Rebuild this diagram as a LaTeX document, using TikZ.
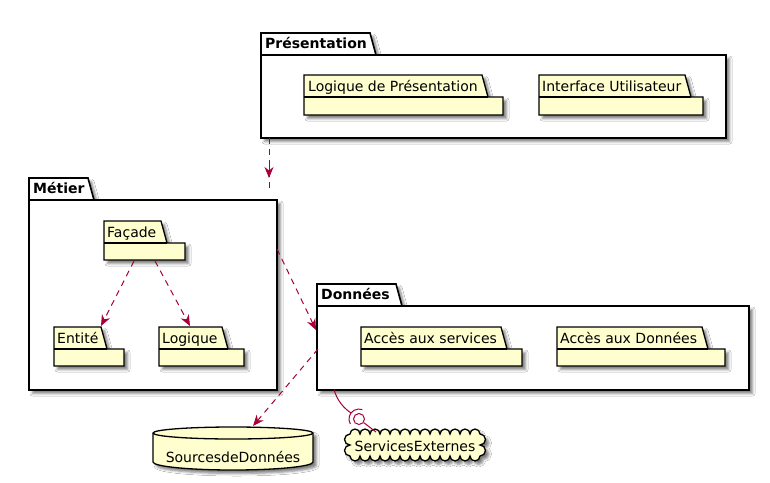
\documentclass[tikz,border=0pt]{standalone}
\usepackage{fontspec}
\setmainfont{DejaVu Sans}
\usetikzlibrary{arrows.meta,shadows.blur}
\definecolor{pumlred}{RGB}{168,0,54}
\definecolor{pumlyellow}{RGB}{254,254,206}
\newcommand\tfont{\fontsize{14}{16}\selectfont}
% package outline: left, tab top, tab right, body top, right, bottom, shape style, seam style
\newcommand\pkgshape[8]{%
  \path[#7] (#1,#2) -- (#3,#2) -- ({#3+6},#4) -- (#5,#4) -- (#5,#6) -- (#1,#6) -- cycle;
  \draw[#8] (#1,#4) -- ({#3+6},#4);
}
\begin{document}
\begin{tikzpicture}[x=1pt, y=-1pt,
  shade/.style={blur shadow={shadow xshift=3.5pt, shadow yshift=-3.5pt,
      shadow blur radius=2.5pt, shadow opacity=50}},
  outerpkg/.style={draw=black, line width=1.6pt, fill=white, shade},
  outerseam/.style={draw=black, line width=1.6pt},
  innerpkg/.style={draw=black, line width=1.3pt, fill=pumlyellow, shade},
  innerseam/.style={draw=black, line width=1.3pt},
  title/.style={font=\tfont\bfseries, anchor=base west, inner sep=0pt},
  pkgname/.style={font=\tfont, anchor=base west, inner sep=0pt},
  tip/.style={-{Stealth[length=11pt,width=9pt,inset=3.5pt]}},
  dep/.style={draw=pumlred, line width=1pt, dash pattern=on 6pt off 5pt, tip},
  dashline/.style={draw=pumlred, line width=1pt, dash pattern=on 6pt off 5pt},
  iface/.style={draw=pumlred, line width=1pt},
  store/.style={draw=black, line width=1.3pt, fill=pumlyellow, shade},
]
\useasboundingbox (0,0) rectangle (770,482);
\fill[white] (0,0) rectangle (770,482);

% --- Présentation layer
\pkgshape{261}{33}{370}{55}{726}{138}{outerpkg}{outerseam}
\node[title] (presT) at (265,48) {Présentation};
\pkgshape{304}{75}{482}{97}{503}{115}{innerpkg}{innerseam}
\node[pkgname] (logpresT) at (308,91) {Logique de Présentation};
\pkgshape{539}{75}{685}{97}{703}{115}{innerpkg}{innerseam}
\node[pkgname] (uiT) at (542,91) {Interface Utilisateur};

% --- Métier layer
\pkgshape{29}{178}{88}{200}{277}{390}{outerpkg}{outerseam}
\node[title] (metT) at (33,193) {Métier};
\pkgshape{104}{221}{161}{243}{185}{260}{innerpkg}{innerseam}
\node[pkgname] (facT) at (107,237) {Façade};
\pkgshape{54}{327}{101}{349}{124}{366}{innerpkg}{innerseam}
\node[pkgname] (entT) at (57,343) {Entité};
\pkgshape{159}{327}{222}{349}{244}{366}{innerpkg}{innerseam}
\node[pkgname] (logT) at (162,343) {Logique};

% --- Données layer
\pkgshape{317}{284}{396}{306}{749}{390}{outerpkg}{outerseam}
\node[title] (donT) at (321,299) {Données};
\pkgshape{361}{327}{501}{349}{522}{366}{innerpkg}{innerseam}
\node[pkgname] (accsT) at (364,343) {Accès aux services};
\pkgshape{557}{327}{702}{349}{725}{366}{innerpkg}{innerseam}
\node[pkgname] (accdT) at (560,343) {Accès aux Données};

% --- data store (cylinder)
\path[store] (153,433) arc[start angle=180, end angle=360, x radius=80, y radius=6]
  -- (313,462) arc[start angle=0, end angle=180, x radius=80, y radius=8] -- cycle;
\draw[line width=1.3pt] (153,433) arc[start angle=180, end angle=0, x radius=80, y radius=6];
\node[font=\tfont, inner sep=0pt] (src) at (233,457) {SourcesdeDonnées};

% --- external services (cloud)
\path[store] (350,434)
  \foreach \i in {1,...,13} { arc[start angle=180, end angle=360, radius=5] }
  \foreach \i in {1,2} { arc[start angle=-90, end angle=90, radius=5.5] }
  \foreach \i in {1,...,13} { arc[start angle=0, end angle=180, radius=5] }
  \foreach \i in {1,2} { arc[start angle=90, end angle=270, radius=5.5] }
  -- cycle;
\node[font=\tfont, inner sep=0pt] (ext) at (415,446) {ServicesExternes};

% --- connection points on the shapes
\coordinate (presOut) at (269,138);
\coordinate (metPre) at (269,166);
\coordinate (metIn) at (269,178);
\coordinate (metTail) at (269,190);
\coordinate (metOut) at (277,249);
\coordinate (donIn) at (316,330);
\coordinate (facL) at (134,261);
\coordinate (facR) at (155,261);
\coordinate (entIn) at (101,326);
\coordinate (logIn) at (190,326);
\coordinate (donOut) at (318,349);
\coordinate (srcIn) at (253,426);
\coordinate (donBot) at (334,390);
\coordinate (sock) at (351,413);
\coordinate (extIn) at (376,432);

% --- dependencies
\draw[dashline] (presOut) -- (metTail);
\draw[draw=pumlred, fill=pumlred, line width=1pt, tip] (metPre) -- (metIn);
\draw[dep] (metOut) -- (donIn);
\draw[dep] (facL) -- (entIn);
\draw[dep] (facR) -- (logIn);
\draw[dep] (donOut) -- (srcIn);

% --- provided / required interface
\draw[iface] (donBot) .. controls (338,402) and (344,408) .. (sock);
\node[circle, draw=pumlred, line width=1pt, fill=white, inner sep=0pt,
      minimum size=11pt] (ball) at (359,419) {};
\draw[iface] (359,419) ++(150:10) arc[start angle=150, end angle=290, radius=10];
\draw[iface] (ball) -- (extIn);
\end{tikzpicture}
\end{document}
